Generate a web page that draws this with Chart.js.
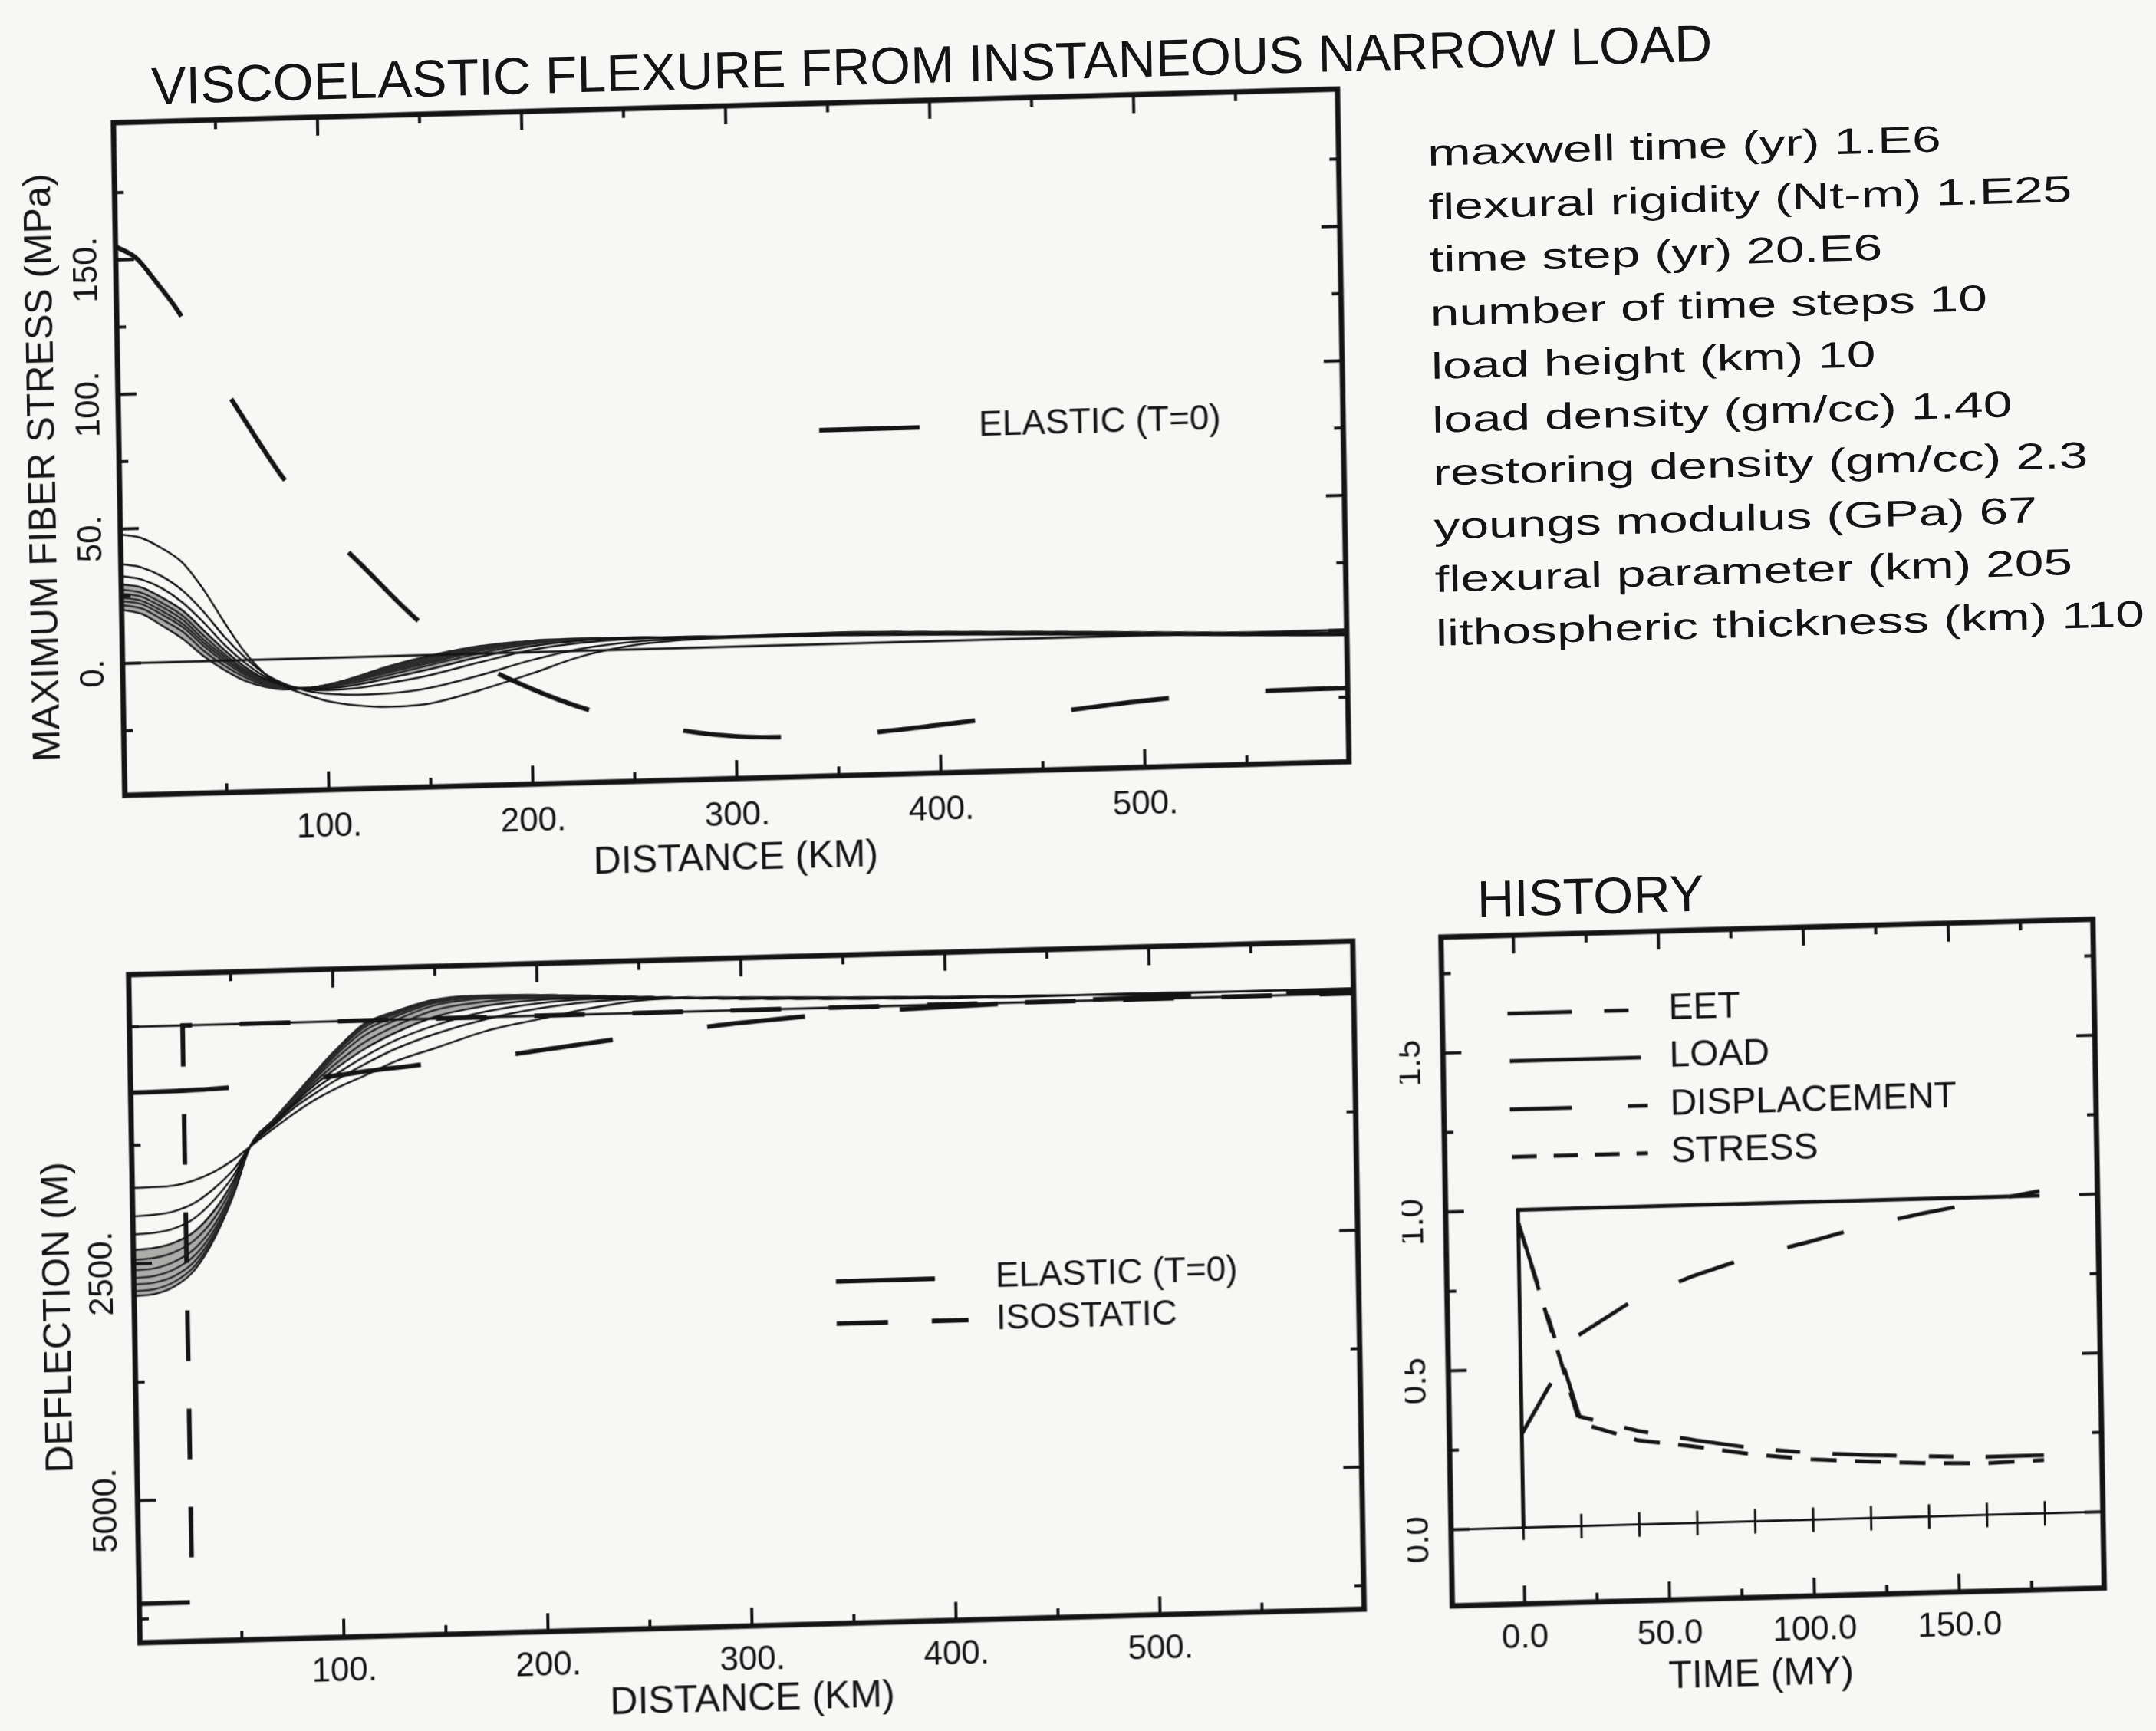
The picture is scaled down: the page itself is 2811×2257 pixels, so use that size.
<!DOCTYPE html>
<html><head><meta charset="utf-8">
<script src="https://cdn.jsdelivr.net/npm/chart.js@4/dist/chart.umd.min.js"></script>
<style>
html,body{margin:0;padding:0;background:#f7f7f5;overflow:hidden;width:2811px;height:2257px;}
#page{position:absolute;left:0;top:0;width:2811px;height:2257px;transform-origin:0 0;transform:matrix(1,-0.0275,0.017,1,0,0);font-family:"Liberation Sans",Arial,sans-serif;color:#141414;}
canvas{position:absolute;}
#title{position:absolute;left:195px;top:83px;font-size:68px;line-height:68px;white-space:nowrap;}
#hist{position:absolute;left:1905px;top:1191px;font-size:67px;line-height:67px;white-space:nowrap;}
#params{position:absolute;left:1857px;top:216px;font-size:48px;line-height:69.5px;white-space:nowrap;transform-origin:0 0;transform:scaleX(1.41);}
</style></head><body>
<div id="page">
<div id="title">VISCOELASTIC FLEXURE FROM INSTANEOUS NARROW LOAD</div>
<div id="params"></div>
<div id="hist">HISTORY</div>
<canvas id="c1" width="1800" height="1100" style="left:0;top:100px;width:1800px;height:1100px"></canvas>
<canvas id="c2" width="1800" height="1100" style="left:0;top:1200px;width:1800px;height:1100px"></canvas>
<canvas id="c3" width="1011" height="1170" style="left:1800px;top:1150px;width:1011px;height:1170px"></canvas>
</div>
<script>
// ---------------- DATA ----------------
const paramLines = [
  "maxwell time (yr) 1.E6",
  "flexural rigidity (Nt-m) 1.E25",
  "time step (yr) 20.E6",
  "number of time steps 10",
  "load height (km) 10",
  "load density (gm/cc) 1.40",
  "restoring density (gm/cc) 2.3",
  "youngs modulus (GPa) 67",
  "flexural parameter (km) 205",
  "lithospheric thickness (km) 110"
];

// Top: maximum fiber stress (MPa) vs distance (km)
const stressDist = [0,10,20,30,40,50,60,70,80,90,100,115,130,150,175,200,225,250,275,300,350,400,450,500,550,600];
const stressT20  = [48,46.5,42.5,37,27,14.5,3,-5.5,-10.5,-13.5,-16,-18,-18.8,-18,-13.5,-8,-2,1.5,3,3.4,3.2,2.4,1.4,0.2,-1,-2];
const stressT40  = [37,35.5,32,26.5,18.5,9,1,-5.5,-9.5,-12,-13.3,-14,-13.8,-12.2,-8,-3,0.8,2.8,3.6,3.8,3.4,2.6,1.6,0.4,-0.8,-1.8];
const stressT60  = [32.5,31,27.5,22,14.5,6,-1,-6.5,-9.8,-11.5,-12,-11.5,-10,-7.5,-3.2,0.8,3,3.9,4,3.9,3.5,2.7,1.7,0.5,-0.7,-1.7];
const stressT80  = [29.5,28,24,19,11.5,4,-2.5,-7.3,-10,-11.2,-11.3,-10.2,-8.2,-5.3,-1.2,2.2,3.8,4.2,4.1,3.9,3.6,2.8,1.8,0.6,-0.6,-1.6];
const stressT100 = [27.5,26,22,17,9.5,2.5,-3.5,-7.8,-10.2,-11,-10.8,-9.3,-7,-3.8,0.2,3,4.2,4.3,4.1,3.9,3.7,2.9,1.9,0.7,-0.5,-1.5];
const stressT120 = [26,24.5,20.5,15.5,8,1.5,-4.2,-8.2,-10.3,-10.9,-10.4,-8.6,-6.1,-3,1,3.5,4.4,4.4,4.1,3.9,3.8,3,2,0.8,-0.4,-1.4];
const stressT140 = [24.5,23,19,14,6.8,0.5,-4.8,-8.5,-10.5,-10.9,-10.1,-8.1,-5.5,-2.3,1.6,3.9,4.5,4.4,4.1,3.9,3.9,3.1,2.1,0.9,-0.3,-1.3];
const stressT160 = [23.2,21.8,17.6,12.8,5.6,-0.5,-5.5,-9,-10.7,-10.9,-10,-7.6,-4.9,-1.6,2.1,4.2,4.6,4.4,4.1,3.9,4,3.2,2.2,1,-0.2,-1.2];
const stressT180 = [21.8,20.2,15.8,11,3.8,-1.9,-6.4,-9.6,-11,-11,-10.1,-7.3,-4.3,-0.9,2.5,4.2,4.6,4.4,4.1,3.9,4.1,3.3,2.3,1.1,-0.1,-1.1];
const stressT200 = [20,18.2,13.5,8.4,1.8,-3.5,-7.7,-10.2,-11.3,-11.1,-10.2,-7.2,-3.8,-0.3,2.8,4.2,4.6,4.4,4.1,3.9,4.2,3.4,2.4,1.2,0,-1];
const elasticStressDist = [0,10,20,30,45,60,80,100,120,145,170,200,230,260,290,320,350,380,420,460,500,550,600];
const elasticStress     = [155,150.5,141,130.5,110.5,91.5,67.5,48.5,32.5,13,-1.5,-13.5,-22.5,-28.5,-32.5,-34,-34,-32.5,-29.7,-27.2,-24.3,-22,-21.6];
const stressZeroDist = [0,600];
const stressZero     = [0,0];

// Bottom: deflection (m) vs distance (km)
const deflDist  = [0,10,20,30,40,50,58,70,80,90,100,115,130,150,175,200,225,250,275,300,350,400,450,500,550,600];
const deflT20   = [1700,1697,1688,1640,1555,1430,1300,1110,960,825,715,580,440,310,145,40,-60,-130,-145,-135,-105,-80,-65,-58,-55,-55];
const deflT40   = [2000,1990,1960,1880,1730,1530,1300,1075,900,760,630,460,310,160,20,-75,-130,-150,-145,-130,-100,-78,-64,-57,-54,-54];
const deflT60   = [2190,2180,2140,2040,1850,1590,1300,1055,870,710,570,380,220,70,-60,-130,-160,-160,-145,-127,-98,-76,-63,-56,-53,-53];
const deflT80   = [2355,2340,2290,2180,1960,1640,1300,1045,850,670,510,300,140,-20,-120,-165,-175,-163,-145,-125,-96,-74,-62,-56,-53,-52];
const deflT100  = [2460,2445,2390,2270,2040,1680,1300,1035,830,640,460,230,70,-90,-165,-185,-183,-165,-144,-123,-94,-73,-61,-55,-52,-51];
const deflT120  = [2570,2555,2490,2360,2110,1720,1300,1028,815,610,410,160,10,-140,-195,-200,-188,-166,-144,-122,-93,-72,-61,-55,-52,-51];
const deflT140  = [2650,2635,2570,2430,2160,1745,1300,1022,800,590,375,110,-30,-165,-210,-208,-191,-167,-143,-121,-92,-71,-60,-55,-52,-50];
const deflT160  = [2720,2705,2640,2490,2200,1760,1300,1019,790,570,350,75,-55,-182,-218,-213,-193,-167,-143,-121,-91,-71,-60,-55,-52,-50];
const deflT180  = [2790,2775,2700,2540,2230,1772,1300,1017,785,555,333,52,-72,-193,-224,-216,-194,-168,-143,-120,-90,-70,-60,-55,-52,-50];
const deflT200  = [2840,2825,2750,2580,2250,1780,1300,1015,780,545,320,35,-85,-200,-228,-218,-195,-168,-143,-120,-90,-70,-60,-55,-52,-50];
const elasticDeflDist = [0,20,40,60,80,100,122,145,170,191,215,240,265,286,310,334,370,400,450,500,550,600];
const elasticDefl     = [695,690,678,655,620,575,523,480,435,392,330,267,210,160,118,81,45,25,0,-18,-28,-32];
const isoDist = [0,26,26,600];
const isoDefl = [6090,6090,0,0];
const deflZeroDist = [0,600];
const deflZero     = [0,0];

// History (normalised) vs time (MY)
const histTime   = [0,20,40,60,80,100,120,140,160,180];
const histEET    = [0.96,0.345,0.295,0.26,0.23,0.21,0.198,0.19,0.183,0.183];
const histStress = [0.96,0.325,0.265,0.24,0.21,0.19,0.178,0.168,0.163,0.168];
const histDisp   = [0.295,0.60,0.71,0.777,0.833,0.874,0.92,0.955,0.985,1.015];
const loadTime   = [0,0,180];
const loadValue  = [0,1.0,1.0];
const histZeroTime = [-25,200];
const histZero     = [0,0];
const stepTimes  = [0,20,40,60,80,100,120,140,160,180];

// Axis ticks and labels
const distTicks = [50,100,150,200,250,300,350,400,450,500,550];
const distMajor = [100,200,300,400,500];
const distLabelText = ["100.","200.","300.","400.","500."];
const stressTicks = [-25,0,25,50,75,100,125,150,175];
const stressMajor = [0,50,100,150];
const stressLabelText = ["0.","50.","100.","150."];
const deflTicks = [0,1250,2500,3750,5000,6250];
const deflMajor = [2500,5000];
const deflLabelText = ["2500.","5000."];
const timeTicks = [0,25,50,75,100,125,150,175];
const timeMajor = [0,50,100,150];
const timeLabelText = ["0.0","50.0","100.0","150.0"];
const histTicks = [0,0.25,0.5,0.75,1,1.25,1.5,1.75];
const histMajor = [0,0.5,1,1.5];
const histLabelText = ["0.0","0.5","1.0","1.5"];

// ---------------- RENDER ----------------
document.getElementById('params').innerHTML = paramLines.join('<br>');
const INK = '#141414';
const BAND = 'rgba(70,70,70,0.42)';
const FONT = '"Liberation Sans", Arial, sans-serif';
const pts = (xs, ys) => xs.map((v, i) => ({x: v, y: ys[i]}));

function makeFrame(c) {
  return {
    id: 'frame_' + c.name,
    afterDatasetsDraw(chart) {
      const ctx = chart.ctx, a = chart.chartArea, xs = chart.scales.x, ys = chart.scales.y;
      ctx.save();
      ctx.strokeStyle = INK; ctx.fillStyle = INK; ctx.lineCap = 'butt'; ctx.setLineDash([]);
      const seg = (x0, y0, x1, y1) => { ctx.beginPath(); ctx.moveTo(x0, y0); ctx.lineTo(x1, y1); ctx.stroke(); };
      ctx.lineWidth = 4;
      c.xTicks.forEach(v => { const p = xs.getPixelForValue(v); const L = c.xMajor.includes(v) ? 24 : 12;
        seg(p, a.bottom, p, a.bottom - L); seg(p, a.top, p, a.top + L); });
      c.yTicks.forEach(v => { const p = ys.getPixelForValue(v); const L = c.yMajor.includes(v) ? 24 : 12;
        seg(a.left, p, a.left + L, p); seg(a.right, p, a.right - L, p); });
      ctx.lineWidth = 7;
      ctx.strokeRect(a.left, a.top, a.right - a.left, a.bottom - a.top);
      ctx.font = '44px ' + FONT; ctx.textAlign = 'center'; ctx.textBaseline = 'middle';
      c.xMajor.forEach((v, i) => ctx.fillText(c.xText[i], xs.getPixelForValue(v), a.bottom + c.xGap));
      c.yMajor.forEach((v, i) => { ctx.save(); ctx.translate(a.left - c.yGap, ys.getPixelForValue(v) + 12);
        ctx.rotate(-Math.PI / 2); ctx.fillText(c.yText[i], 0, 0); ctx.restore(); });
      ctx.font = '50px ' + FONT;
      if (c.xTitle) ctx.fillText(c.xTitle[0], c.xTitle[1], c.xTitle[2]);
      if (c.yTitle) { ctx.save(); ctx.translate(c.yTitle[1], c.yTitle[2]); ctx.rotate(-Math.PI / 2);
        ctx.fillText(c.yTitle[0], 0, 0); ctx.restore(); }
      (c.legend || []).forEach(e => {
        ctx.lineWidth = e.w; ctx.setLineDash(e.dash || []); seg(e.x0, e.y, e.x1, e.y); ctx.setLineDash([]);
        ctx.font = e.font || ('46px ' + FONT); ctx.textAlign = 'left'; ctx.fillText(e.text, e.tx, e.y);
      });
      ctx.restore();
    }
  };
}

function baseOptions(pad, xmin, xmax, ymin, ymax, yrev) {
  return {
    responsive: false, animation: false, devicePixelRatio: 1,
    layout: {padding: pad},
    plugins: {legend: {display: false}, tooltip: {enabled: false}},
    scales: {
      x: {type: 'linear', min: xmin, max: xmax, display: false},
      y: {type: 'linear', min: ymin, max: ymax, reverse: !!yrev, display: false}
    },
    elements: {point: {radius: 0}}
  };
}
const curve = (xs, ys, w) => ({data: pts(xs, ys), borderColor: INK, borderWidth: w || 2.5, cubicInterpolationMode: 'monotone', pointRadius: 0, fill: false});

// Chart 1: stress
const stressSeries = [stressT20, stressT40, stressT60, stressT80, stressT100, stressT120, stressT140, stressT160, stressT180, stressT200];
const ds1 = [
  Object.assign(curve(elasticStressDist, elasticStress, 6), {borderDash: [128, 126]}),
  {data: pts(stressZeroDist, stressZero), borderColor: INK, borderWidth: 3, pointRadius: 0},
  ...stressSeries.map(s => curve(stressDist, s, 2.5))
];
ds1[5].fill = 11; ds1[5].backgroundColor = BAND;
new Chart(document.getElementById('c1'), {
  type: 'line',
  data: {datasets: ds1},
  options: baseOptions({left: 145, right: 59, top: 64, bottom: 159}, 0, 600, -49, 201, false),
  plugins: [makeFrame({name: 's', xTicks: distTicks, xMajor: distMajor, xText: distLabelText, xGap: 49,
    yTicks: stressTicks, yMajor: stressMajor, yText: stressLabelText, yGap: 37,
    xTitle: ['DISTANCE (KM)', 940, 1046], yTitle: ['MAXIMUM FIBER STRESS (MPa)', 47, 511],
    legend: [{text: 'ELASTIC (T=0)', x0: 1058, x1: 1189, y: 490, w: 6, tx: 1266}]})]
});

// Chart 2: deflection
const deflSeries = [deflT20, deflT40, deflT60, deflT80, deflT100, deflT120, deflT140, deflT160, deflT180, deflT200];
const ds2 = [
  Object.assign(curve(elasticDeflDist, elasticDefl, 6), {borderDash: [128, 124]}),
  {data: pts(isoDist, isoDefl), borderColor: INK, borderWidth: 6, pointRadius: 0, borderDash: [66, 62], tension: 0},
  {data: pts(deflZeroDist, deflZero), borderColor: INK, borderWidth: 3, pointRadius: 0},
  ...deflSeries.map(s => curve(deflDist, s, 2.5))
];
ds2[6].fill = 12; ds2[6].backgroundColor = BAND;
new Chart(document.getElementById('c2'), {
  type: 'line',
  data: {datasets: ds2},
  options: baseOptions({left: 146, right: 58, top: 75, bottom: 154}, 0, 600, -550, 6500, true),
  plugins: [makeFrame({name: 'd', xTicks: distTicks, xMajor: distMajor, xText: distLabelText, xGap: 45,
    yTicks: deflTicks, yMajor: deflMajor, yText: deflLabelText, yGap: 40,
    xTitle: ['DISTANCE (KM)', 943, 1042], yTitle: ['DEFLECTION (M)', 48, 519],
    legend: [{text: 'ELASTIC (T=0)', x0: 1061, x1: 1190, y: 500, w: 6, tx: 1269},
             {text: 'ISOSTATIC', x0: 1061, x1: 1233, y: 555, w: 6, tx: 1269, dash: [67, 57, 48, 500]}]})]
});

// Chart 3: history
new Chart(document.getElementById('c3'), {
  type: 'line',
  data: {datasets: [
    {data: pts(loadTime, loadValue), borderColor: INK, borderWidth: 5, pointRadius: 0, tension: 0},
    {data: pts(histZeroTime, histZero), borderColor: INK, borderWidth: 3, pointRadius: 0},
    {data: pts(stepTimes, stepTimes.map(() => 0)), showLine: false, pointStyle: 'line', rotation: 90,
      pointRadius: 16, pointBorderWidth: 3, pointBorderColor: INK, borderColor: INK},
    {data: pts(histTime, histEET), borderColor: INK, borderWidth: 5, pointRadius: 0, tension: 0, borderDash: [84, 42, 32, 42]},
    {data: pts(histTime, histStress), borderColor: INK, borderWidth: 5, pointRadius: 0, tension: 0, borderDash: [34, 24]},
    {data: pts(histTime, histDisp), borderColor: INK, borderWidth: 5, pointRadius: 0, tension: 0, borderDash: [76, 72]}
  ]},
  options: baseOptions({left: 57, right: 104, top: 123, bottom: 175}, -25, 200, -0.24, 1.865, false),
  plugins: [makeFrame({name: 'h', xTicks: timeTicks, xMajor: timeMajor, xText: timeLabelText, xGap: 45,
    yTicks: histTicks, yMajor: histMajor, yText: histLabelText, yGap: 42,
    xTitle: ['TIME (MY)', 458, 1096],
    legend: [{text: 'EET', x0: 142, x1: 300, y: 225, w: 5, tx: 352, dash: [84, 42, 32, 400], font: '48px ' + FONT},
             {text: 'LOAD', x0: 144, x1: 315, y: 287, w: 5, tx: 352, font: '48px ' + FONT},
             {text: 'DISPLACEMENT', x0: 143, x1: 323, y: 350, w: 5, tx: 352, dash: [81, 73, 26, 400], font: '48px ' + FONT},
             {text: 'STRESS', x0: 145, x1: 322, y: 412, w: 5, tx: 352, dash: [32, 22], font: '48px ' + FONT}]})]
});
</script>
</body></html>
